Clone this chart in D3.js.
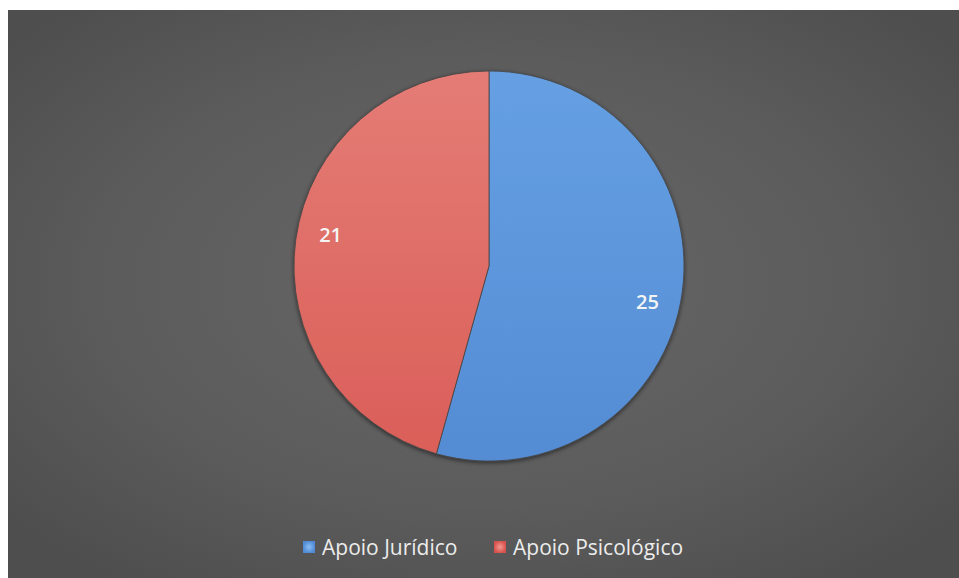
<!DOCTYPE html>
<html>
<head>
<meta charset="utf-8">
<script src="https://cdn.jsdelivr.net/npm/d3@7"></script>
<style>
  html, body { margin: 0; padding: 0; background: #ffffff; }
  svg { display: block; }
</style>
</head>
<body>
<svg id="chart" width="959" height="578"></svg>
<script>
// Atendimentos por tipo de apoio
const categories = ["Apoio Jurídico", "Apoio Psicológico"];
const values = [25, 21];

const W = 959, H = 578;
const panel = { x: 8, y: 10, w: W - 8, h: H - 10 };
const cx = 489, cy = 266, R = 195;

const svg = d3.select("#chart");
const defs = svg.append("defs");

// panel background: dark gray, lighter in the middle
const bg = defs.append("radialGradient").attr("id", "bgGrad")
  .attr("cx", "50%").attr("cy", "48%").attr("r", "65%");
bg.append("stop").attr("offset", "0%").attr("stop-color", "#666766");
bg.append("stop").attr("offset", "60%").attr("stop-color", "#5b5c5b");
bg.append("stop").attr("offset", "100%").attr("stop-color", "#4d4e4d");

// slice shading
const shades = [
  { id: "gradBlue", top: "#66a0e3", bottom: "#548cd4" },
  { id: "gradRed", top: "#e47c75", bottom: "#da5f59" }
];
shades.forEach(s => {
  const g = defs.append("linearGradient").attr("id", s.id)
    .attr("x1", 0).attr("y1", 0).attr("x2", 0).attr("y2", 1);
  g.append("stop").attr("offset", "0%").attr("stop-color", s.top);
  g.append("stop").attr("offset", "100%").attr("stop-color", s.bottom);
});

const shadow = defs.append("filter").attr("id", "pieShadow")
  .attr("x", "-10%").attr("y", "-10%").attr("width", "120%").attr("height", "120%");
shadow.append("feDropShadow").attr("dx", 0).attr("dy", 1.5)
  .attr("stdDeviation", 2).attr("flood-color", "#000").attr("flood-opacity", 0.55);

const legendShade = [
  { id: "lgBlue", inner: "#8cc0f4", outer: "#4f8ad6" },
  { id: "lgRed", inner: "#f39a92", outer: "#d8524d" }
];
legendShade.forEach(s => {
  const g = defs.append("radialGradient").attr("id", s.id);
  g.append("stop").attr("offset", "0%").attr("stop-color", s.inner);
  g.append("stop").attr("offset", "100%").attr("stop-color", s.outer);
});

svg.append("rect")
  .attr("x", panel.x).attr("y", panel.y)
  .attr("width", panel.w).attr("height", panel.h)
  .attr("fill", "url(#bgGrad)");

// pie
const pie = d3.pie().sort(null).value(d => d)(values);
const arc = d3.arc().innerRadius(0).outerRadius(R);
const fills = ["url(#gradBlue)", "url(#gradRed)"];

const gPie = svg.append("g")
  .attr("transform", `translate(${cx},${cy})`)
  .attr("filter", "url(#pieShadow)");

gPie.selectAll("path.slice")
  .data(pie)
  .join("path")
  .attr("class", "slice")
  .attr("d", arc)
  .attr("fill", (d, i) => fills[i])
  .attr("stroke", "#444")
  .attr("stroke-width", 0.8);

// value labels
const labelR = R * 0.83;
const labelTurn = 4 * Math.PI / 180;
svg.append("g")
  .attr("transform", `translate(${cx},${cy + 2})`)
  .selectAll("text")
  .data(pie)
  .join("text")
  .attr("x", d => labelR * Math.sin((d.startAngle + d.endAngle) / 2 + labelTurn))
  .attr("y", d => -labelR * Math.cos((d.startAngle + d.endAngle) / 2 + labelTurn))
  .attr("text-anchor", "middle")
  .attr("dominant-baseline", "central")
  .attr("font-family", "'Open Sans', 'Noto Sans', sans-serif")
  .attr("font-size", 20)
  .attr("font-weight", 600)
  .attr("fill", "#f4f4f4")
  .text(d => d.data);

// legend
const legendY = 547;
const legendX = [303, 494];
const lg = svg.append("g");
categories.forEach((c, i) => {
  lg.append("rect")
    .attr("x", legendX[i]).attr("y", legendY - 6)
    .attr("width", 12).attr("height", 12)
    .attr("fill", i === 0 ? "url(#lgBlue)" : "url(#lgRed)");
  lg.append("text")
    .attr("x", legendX[i] + 19).attr("y", legendY)
    .attr("dominant-baseline", "central")
    .attr("font-family", "'Open Sans', 'Noto Sans', sans-serif")
    .attr("font-size", 21)
    .attr("fill", "#ececec")
    .text(c);
});
</script>
</body>
</html>
